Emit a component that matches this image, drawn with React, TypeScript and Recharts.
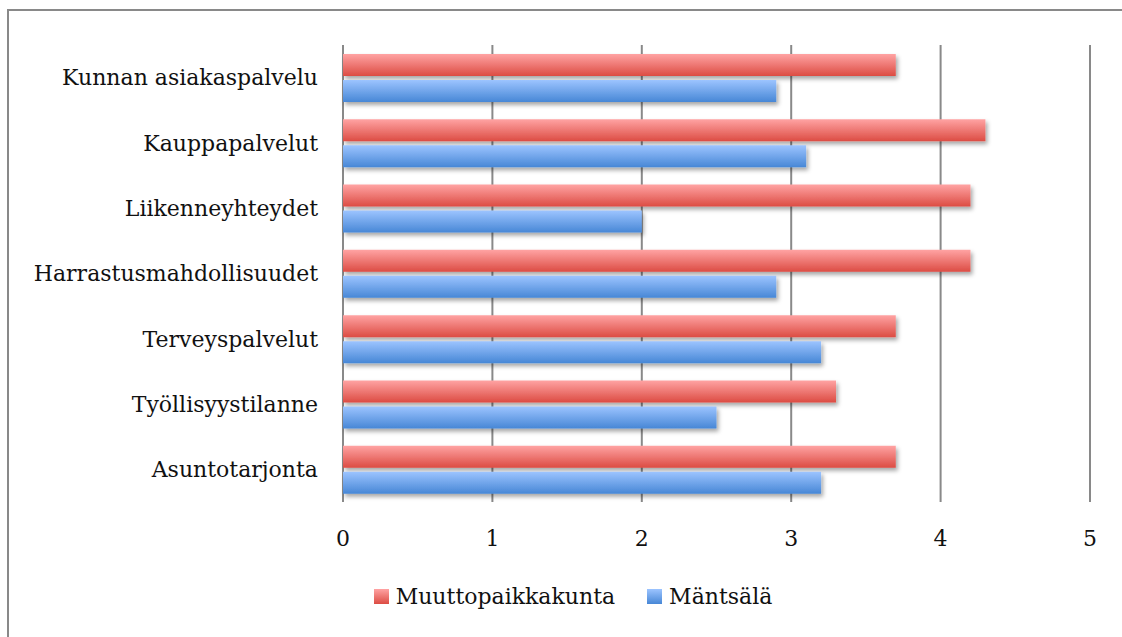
import React from "react";
import { Bar, BarChart, CartesianGrid, XAxis, YAxis } from "recharts";

const categories = [
  "Kunnan asiakaspalvelu",
  "Kauppapalvelut",
  "Liikenneyhteydet",
  "Harrastusmahdollisuudet",
  "Terveyspalvelut",
  "Työllisyystilanne",
  "Asuntotarjonta",
];
const muuttopaikkakunta = [3.7, 4.3, 4.2, 4.2, 3.7, 3.3, 3.7];
const mantsala = [2.9, 3.1, 2.0, 2.9, 3.2, 2.5, 3.2];
const xTicks = [0, 1, 2, 3, 4, 5];

const data = categories.map((name, i) => ({
  name,
  muutto: muuttopaikkakunta[i],
  mantsala: mantsala[i],
}));

const FONT = "'DejaVu Serif', serif";

const legendItems = [
  { label: "Muuttopaikkakunta", grad: "linear-gradient(#ffa3a3, #dc4c43)" },
  { label: "Mäntsälä", grad: "linear-gradient(#9cc4ff, #4787d6)" },
];

export default function App() {
  return (
    <div style={{ position: "fixed", left: 0, top: 0, width: 1122, height: 637, overflow: "hidden", background: "#fff" }}>
      <div style={{ position: "absolute", left: 7, top: 9, width: 1115, height: 2, background: "#898989" }} />
      <div style={{ position: "absolute", left: 7, top: 9, width: 2, height: 628, background: "#898989" }} />
      <BarChart
        width={1122}
        height={637}
        data={data}
        layout="vertical"
        margin={{ top: 45, right: 32, bottom: 100, left: 0 }}
        barSize={22}
        barGap={4}
        style={{ position: "absolute", left: 0, top: 0 }}
      >
        <defs>
          <linearGradient id="gRed" x1="0" y1="0" x2="0" y2="1">
            <stop offset="0%" stopColor="#ffa3a3" />
            <stop offset="100%" stopColor="#dc4c43" />
          </linearGradient>
          <linearGradient id="gBlue" x1="0" y1="0" x2="0" y2="1">
            <stop offset="0%" stopColor="#9cc4ff" />
            <stop offset="100%" stopColor="#4787d6" />
          </linearGradient>
          <filter id="shadow" x="-5%" y="-30%" width="115%" height="180%">
            <feDropShadow dx="2" dy="3" stdDeviation="2" floodColor="#000" floodOpacity="0.35" />
          </filter>
        </defs>
        <CartesianGrid horizontal={false} stroke="#898989" strokeWidth={2} />
        <XAxis
          type="number"
          domain={[0, 5]}
          ticks={xTicks}
          axisLine={false}
          tickLine={false}
          tickSize={0}
          tickMargin={28}
          height={35}
          tick={{ fill: "#111", fontSize: 22, fontFamily: FONT }}
        />
        <YAxis
          type="category"
          dataKey="name"
          width={343}
          axisLine={false}
          tickLine={false}
          tickSize={0}
          tickMargin={25}
          tick={{ fill: "#111", fontSize: 22, fontFamily: FONT }}
        />
        <Bar dataKey="muutto" name="Muuttopaikkakunta" fill="url(#gRed)" filter="url(#shadow)" isAnimationActive={false} />
        <Bar dataKey="mantsala" name="Mäntsälä" fill="url(#gBlue)" filter="url(#shadow)" isAnimationActive={false} />
      </BarChart>
      <div
        style={{
          position: "absolute",
          top: 584,
          left: 12,
          width: 1122,
          display: "flex",
          justifyContent: "center",
          gap: 32,
          fontFamily: FONT,
          fontSize: 22,
          color: "#111",
        }}
      >
        {legendItems.map((it) => (
          <div key={it.label} style={{ display: "flex", alignItems: "center", gap: 7 }}>
            <span style={{ width: 15, height: 15, background: it.grad, display: "inline-block" }} />
            <span>{it.label}</span>
          </div>
        ))}
      </div>
    </div>
  );
}
